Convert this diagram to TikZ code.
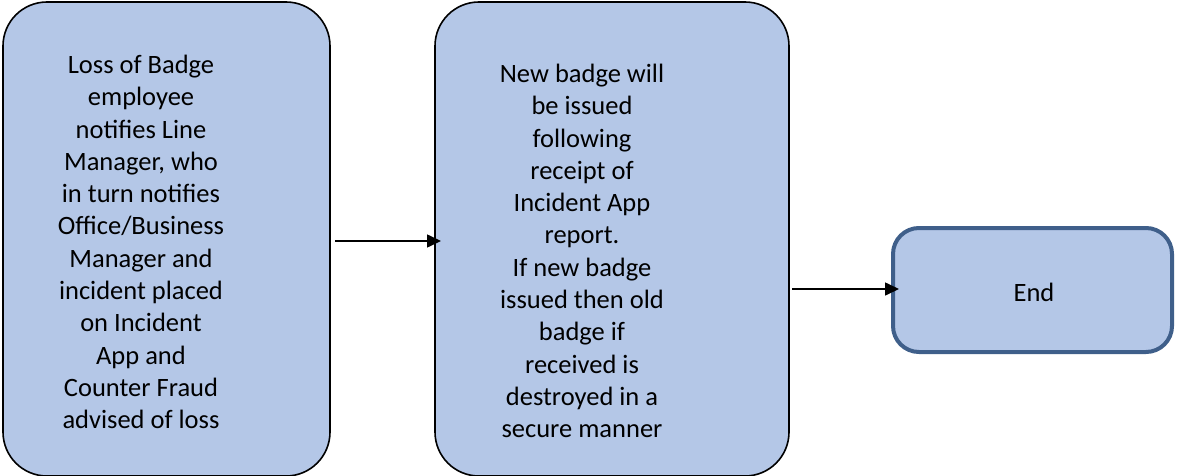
\documentclass[tikz,border=0pt]{standalone}
\usepackage{fontspec}
\setmainfont{Carlito}
\usetikzlibrary{arrows.meta}
\definecolor{boxfill}{HTML}{B4C7E7}
\definecolor{endline}{HTML}{3F5F8A}
\tikzset{
  bigbox/.style={draw=black, line width=1.6pt, fill=boxfill, rounded corners=44pt},
  endbox/.style={draw=endline, line width=4pt, fill=boxfill, rounded corners=26pt},
  lbl/.style={align=center, font=\fontsize{26.5}{32.3}\selectfont, inner sep=0pt},
  conn/.style={draw=black, line width=1.6pt, -{Triangle[length=14pt,width=13pt]}}
}
\begin{document}
\begin{tikzpicture}[x=1pt,y=-1pt]
\useasboundingbox (0,0) rectangle (1177,476);
\draw[bigbox] (3,2) rectangle (330,476);
\draw[bigbox] (435,2) rectangle (789,476);
\draw[endbox] (893,228) rectangle (1172,352);
\node[lbl] (t1) at (141,242) {Loss of Badge\\employee\\notifies Line\\Manager, who\\in turn notifies\\Office/Business\\Manager and\\incident placed\\on Incident\\App and\\Counter Fraud\\advised of loss};
\node[lbl] (t2) at (582,251) {New badge will\\be issued\\following\\receipt of\\Incident App\\report.\\If new badge\\issued then old\\badge if\\received is\\destroyed in a\\secure manner};
\node[lbl] (t3) at (1034,292) {End};
\coordinate (b1r) at (330,241);
\coordinate (b2l) at (435,241);
\coordinate (b2r) at (789,289);
\coordinate (b3l) at (893,289);
\draw[conn] ([xshift=5pt]b1r) -- ([xshift=6pt]b2l);
\draw[conn] ([xshift=3pt]b2r) -- ([xshift=6pt]b3l);
\end{tikzpicture}
\end{document}
